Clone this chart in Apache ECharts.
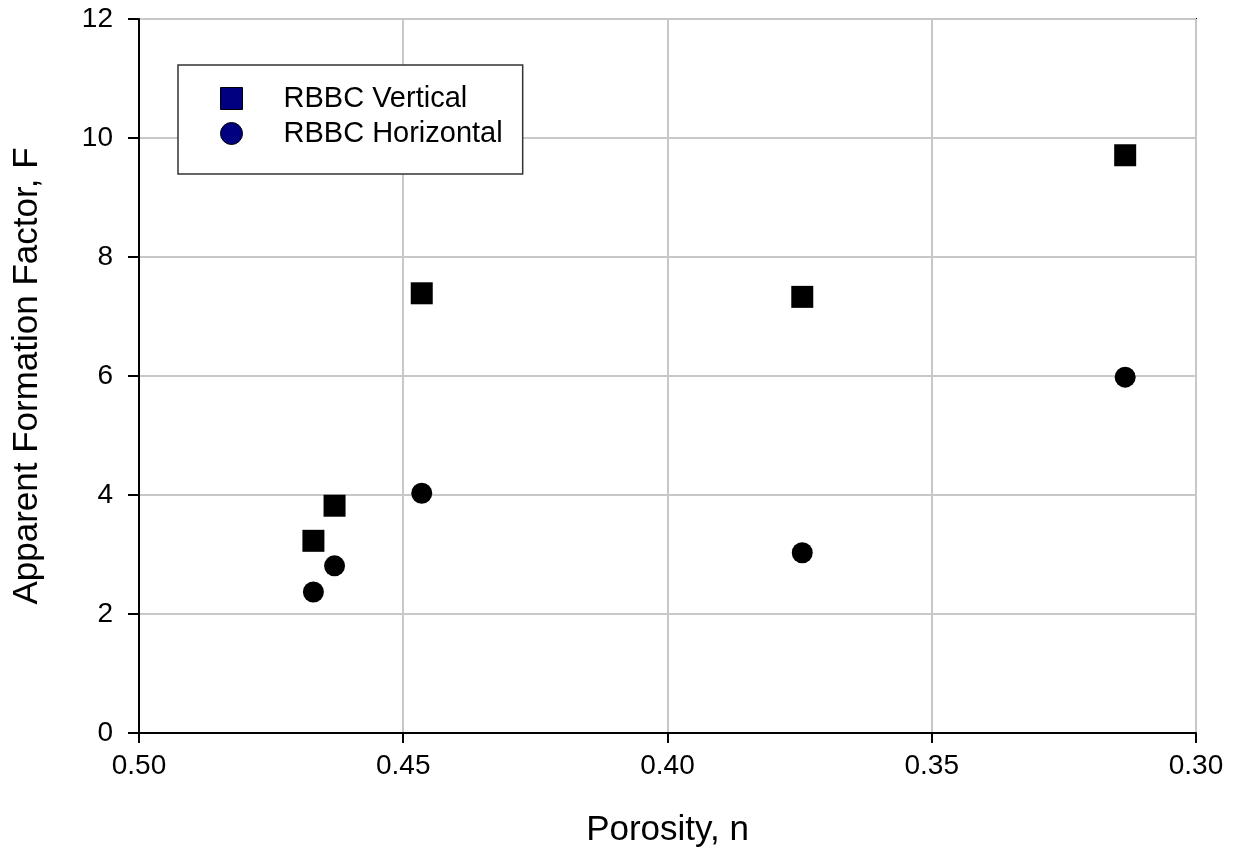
<!DOCTYPE html>
<html>
<head>
<meta charset="utf-8">
<script src="https://cdn.jsdelivr.net/npm/echarts@6/dist/echarts.min.js"></script>
<style>
html,body{margin:0;padding:0;background:#fff;}
#chart{width:1238px;height:855px;}
</style>
</head>
<body>
<div id="chart"></div>
<script>
const porosity = [0.467, 0.463, 0.4465, 0.3745, 0.3134];
const vertical = [3.23, 3.82, 7.39, 7.33, 9.71];
const horizontal = [2.37, 2.81, 4.03, 3.03, 5.98];
const seriesNames = ['RBBC Vertical', 'RBBC Horizontal'];
const xTitle = 'Porosity, n';
const yTitle = 'Apparent Formation Factor, F';

const FONT = "'Liberation Sans', Arial, sans-serif";
const chart = echarts.init(document.getElementById('chart'));
chart.setOption({
  animation: false,
  backgroundColor: '#fff',
  grid: {left: 139, right: 42, top: 19, bottom: 122, show: true, borderColor: '#000', borderWidth: 2},
  legend: {
    orient: 'vertical', left: 178, top: 65,
    padding: [19, 20, 26, 42],
    itemGap: 6,
    itemWidth: 22, itemHeight: 22,
    borderColor: '#333', borderWidth: 1.5, backgroundColor: '#fff',
    textStyle: {fontFamily: FONT, fontSize: 29, color: '#000', padding: [0, 0, 0, 36]},
    data: [
      {name: seriesNames[0], icon: 'rect', itemStyle: {color: '#000080', borderColor: '#000', borderWidth: 1}},
      {name: seriesNames[1], icon: 'circle', itemStyle: {color: '#000080', borderColor: '#000', borderWidth: 1}}
    ]
  },
  xAxis: {
    type: 'value', inverse: true, min: 0.30, max: 0.50, interval: 0.05,
    name: xTitle, nameLocation: 'middle', nameGap: 80,
    nameTextStyle: {fontFamily: FONT, fontSize: 35, color: '#000'},
    axisLine: {show: true, onZero: false, lineStyle: {color: '#000', width: 2}},
    axisTick: {show: true, inside: false, length: 10, lineStyle: {color: '#000', width: 2}},
    axisLabel: {fontFamily: FONT, fontSize: 28, color: '#000', margin: 19, formatter: v => v.toFixed(2)},
    splitLine: {show: true, lineStyle: {color: '#c8c8c8', width: 2}}
  },
  yAxis: {
    type: 'value', min: 0, max: 12, interval: 2,
    name: yTitle, nameLocation: 'middle', nameGap: 94,
    nameTextStyle: {fontFamily: FONT, fontSize: 35, color: '#000'},
    axisLine: {show: true, lineStyle: {color: '#000', width: 2}},
    axisTick: {show: true, inside: false, length: 11, lineStyle: {color: '#000', width: 2}},
    axisLabel: {fontFamily: FONT, fontSize: 28, color: '#000', margin: 26},
    splitLine: {show: true, lineStyle: {color: '#c8c8c8', width: 2}}
  },
  series: [
    {
      name: seriesNames[0], type: 'scatter', symbol: 'rect', symbolSize: 22,
      itemStyle: {color: '#000', opacity: 1},
      data: porosity.map((p, i) => [p, vertical[i]])
    },
    {
      name: seriesNames[1], type: 'scatter', symbol: 'circle', symbolSize: 21,
      itemStyle: {color: '#000', opacity: 1},
      data: porosity.map((p, i) => [p, horizontal[i]])
    }
  ]
});
</script>
</body>
</html>
